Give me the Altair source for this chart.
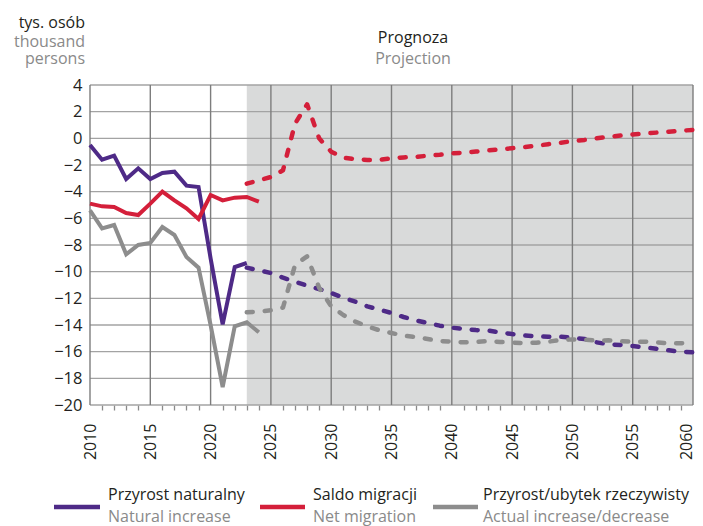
import altair as alt
import pandas as pd

# ---------------- data ----------------
years_hist = list(range(2010, 2025))
natural_hist = [-0.5, -1.6, -1.3, -3.05, -2.25, -3.05, -2.6, -2.5, -3.55, -3.65,
                -9.0, -13.95, -9.65, -9.35]                      # 2010-2023
migration_hist = [-4.9, -5.1, -5.15, -5.6, -5.75, -4.9, -4.0, -4.65, -5.25, -6.05,
                  -4.25, -4.65, -4.45, -4.4, -4.75]              # 2010-2024
actual_hist = [-5.4, -6.75, -6.5, -8.7, -8.0, -7.85, -6.65, -7.25, -8.9, -9.7,
               -14.0, -18.65, -14.1, -13.8, -14.55]              # 2010-2024

years_proj = list(range(2023, 2061))
natural_proj = [-9.7, -9.9, -10.1, -10.45, -10.75, -11.05, -11.3, -11.6, -11.95, -12.25,
                -12.6, -12.85, -13.1, -13.4, -13.65, -13.85, -14.05, -14.2, -14.3, -14.38,
                -14.42, -14.55, -14.68, -14.78, -14.85, -14.88, -14.88, -14.95, -15.05, -15.3,
                -15.45, -15.5, -15.58, -15.68, -15.78, -15.9, -16.0, -16.05]
migration_proj = [-3.4, -3.15, -2.9, -2.4, 1.1, 2.55, 0.0, -1.0, -1.45, -1.57,
                  -1.62, -1.6, -1.5, -1.43, -1.4, -1.3, -1.23, -1.13, -1.07, -0.99,
                  -0.91, -0.83, -0.74, -0.66, -0.56, -0.44, -0.33, -0.21, -0.12, 0.0,
                  0.11, 0.21, 0.29, 0.36, 0.43, 0.5, 0.57, 0.63]
actual_proj = [-13.05, -13.0, -12.9, -12.7, -9.5, -8.85, -11.2, -12.6, -13.25, -13.75,
               -14.1, -14.4, -14.6, -14.8, -14.9, -15.05, -15.2, -15.25, -15.3, -15.28,
               -15.2, -15.27, -15.32, -15.35, -15.33, -15.25, -15.13, -15.08, -15.1, -15.18,
               -15.15, -15.22, -15.25, -15.25, -15.3, -15.38, -15.36, -15.4]

y_ticks = list(range(-20, 5, 2))
x_grid = list(range(2010, 2061, 5))
x_ticks = list(range(2010, 2061))
proj_start, proj_end = 2023, 2060

series_keys = ["natural", "migration", "actual"]
series_colors = ["#4e2a87", "#d41f3a", "#8d8d8d"]
labels_pl = ["Przyrost naturalny", "Saldo migracji", "Przyrost/ubytek rzeczywisty"]
labels_en = ["Natural increase", "Net migration", "Actual increase/decrease"]
unit_pl = "tys. osób"
unit_en = ["thousand", "persons"]
proj_pl = "Prognoza"
proj_en = "Projection"

FONT = "Open Sans"
DARK = "#231f20"
GREY_TXT = "#8a8a8a"

# ---------------- tables ----------------
def long(years, vals, key):
    return pd.DataFrame({"year": years[:len(vals)], "value": vals, "series": key})

hist_df = pd.concat([long(years_hist, natural_hist, "natural"),
                     long(years_hist, migration_hist, "migration"),
                     long(years_hist, actual_hist, "actual")])
proj_df = pd.concat([long(years_proj, natural_proj, "natural"),
                     long(years_proj, migration_proj, "migration"),
                     long(years_proj, actual_proj, "actual")])

xs = alt.Scale(domain=[2010, 2060], nice=False, zero=False)
ys = alt.Scale(domain=[min(y_ticks), max(y_ticks)], nice=False, zero=False)
col = alt.Scale(domain=series_keys, range=series_colors)

x_axis = alt.Axis(values=x_ticks, format="d", title=None, grid=False, domain=False,
                  labelExpr="datum.value % 5 === 0 ? datum.label : ''",
                  labelAngle=-90, labelFontSize=16, labelColor=DARK, labelFont=FONT,
                  labelPadding=13, tickSize=5, tickWidth=1.3, tickColor="#8a8a8a",
                  tickOpacity={"condition": {"test": "datum.value % 5 === 0", "value": 0}, "value": 1},
                  labelOffset={"condition": {"test": "datum.value === 2060", "value": -7}, "value": 0},
                  labelOverlap=False)
y_axis = alt.Axis(values=y_ticks, format="d", title=None, grid=False, domain=False,
                  ticks=False, labelPadding=8, labelFontSize=16.5, labelColor=DARK,
                  labelFont=FONT)

X = lambda f: alt.X(f, scale=xs, axis=x_axis)
Y = lambda f: alt.Y(f, scale=ys, axis=y_axis)

shade = alt.Chart(pd.DataFrame({"x0": [proj_start], "x1": [proj_end],
                                "y0": [min(y_ticks)], "y1": [max(y_ticks)]})).mark_rect(
    color="#d9dada").encode(x=X("x0:Q"), x2="x1:Q", y=Y("y0:Q"), y2="y1:Q")

hgrid = alt.Chart(pd.DataFrame({"v": y_ticks})).mark_rule(
    color="#a3a3a3", strokeWidth=1.4).encode(y=Y("v:Q"))
vgrid = alt.Chart(pd.DataFrame({"v": x_grid})).mark_rule(
    color="#7d7d7d", strokeWidth=1.4).encode(x=X("v:Q"))

hist = alt.Chart(hist_df).mark_line(strokeWidth=4, strokeJoin="miter").encode(
    x=X("year:Q"), y=Y("value:Q"),
    color=alt.Color("series:N", scale=col, legend=None))
proj = alt.Chart(proj_df).mark_line(strokeWidth=4.5, strokeDash=[6, 12], strokeCap="round",
                                    strokeJoin="round").encode(
    x=X("year:Q"), y=Y("value:Q"),
    color=alt.Color("series:N", scale=col, legend=None))

def txt(s, x, y, color, align="left", size=16):
    return alt.Chart(pd.DataFrame({"t": [s]})).mark_text(
        align=align, baseline="alphabetic", font=FONT, fontSize=size, color=color).encode(
        text="t:N", x=alt.value(x), y=alt.value(y))

texts = [
    txt(unit_pl, -5, -57, DARK, "right"),
    txt(unit_en[0], -5, -38, GREY_TXT, "right"),
    txt(unit_en[1], -5, -21, GREY_TXT, "right"),
    txt(proj_pl, 323, -42, DARK, "center"),
    txt(proj_en, 323, -21, GREY_TXT, "center"),
]

sw_x = [(-36, 10), (170, 215), (343, 388)]
lab_x = [18, 223, 393]
legend_layers = []
for i in range(3):
    legend_layers.append(
        alt.Chart(pd.DataFrame({"k": [series_keys[i]]})).mark_rule(
            strokeWidth=4.5, color=series_colors[i]).encode(
            x=alt.value(sw_x[i][0]), x2=alt.value(sw_x[i][1]), y=alt.value(422)))
    legend_layers.append(txt(labels_pl[i], lab_x[i], 415, DARK))
    legend_layers.append(txt(labels_en[i], lab_x[i], 437, GREY_TXT))

chart = alt.layer(shade, hgrid, vgrid, hist, proj, *texts, *legend_layers).properties(
    width=603, height=320,
    autosize=alt.AutoSizeParams(type="none"),
    padding={"left": 82, "top": 77, "right": 2, "bottom": 121},
).configure_view(stroke=None)

chart.save("out.html", embed_options={"renderer": "svg", "actions": False})
